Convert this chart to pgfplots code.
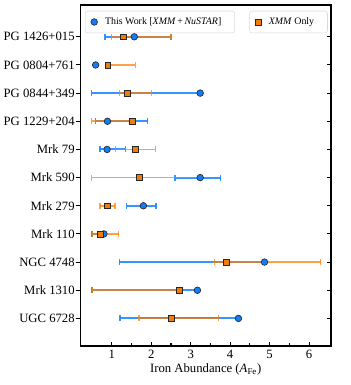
\documentclass[border=0pt]{standalone}
\usepackage{pgfplots}
\pgfplotsset{compat=1.18}
\usepackage{pgfplotstable}
\usepackage{fontspec}
\setmainfont{Liberation Serif}
\definecolor{cblue}{RGB}{20,125,245}
\definecolor{eblue}{RGB}{20,130,255}
\definecolor{corange}{RGB}{240,125,10}
\definecolor{eorange}{RGB}{255,125,0}
\pgfplotstableread{
y x ep em
10 1.57 0.93 0.74
9 0.59 0 0
8 3.24 0 2.75
7 0.89 1.02 0.30
6 0.88 0.46 0.18
5 3.24 0.52 0.64
4 1.80 0.32 0.42
3 0.80 0 0.30
2 4.87 0 3.68
1 3.17 0 2.67
0 4.21 0 3.00
}\bluedata
\pgfplotstableread{
y x ep em
10 1.29 1.21 0.29
9 0.90 0.69 0
8 1.40 0.60 0.21
7 1.51 0 1.02
6 1.60 0.50 0.50
5 1.70 1.54 1.21
4 0.89 0.19 0.19
3 0.70 0.48 0.20
2 3.90 2.40 0.30
1 2.71 0 2.21
0 2.50 1.20 0.81
}\orangedata
\begin{document}
\begin{tikzpicture}
\pgfplotsset{
  common/.style={
    scale only axis, width=196.9pt, height=268.3pt,
    xmin=0.21, xmax=6.55, ymin=-0.97, ymax=11.13,
    axis line style={line width=1.2pt},
    every tick/.style={black, line width=0.8pt},
    /pgf/number format/assume math mode=true,
    tick label style={font=\fontsize{10}{12}\selectfont},
    legend style={font=\fontsize{7.8}{9}\selectfont, draw=black!15, rounded corners=2pt, inner xsep=4.5pt, inner ysep=3.2pt, row sep=0pt,
      nodes={inner xsep=6pt}},
    legend cell align=left,
  }
}
\begin{axis}[common, name=ax,
  tick align=inside,
  xtick={1,2,3,4,5,6}, minor x tick num=1, xtick pos=bottom,
  major tick length=2.6pt, minor tick length=2.4pt,
  ytick={0,...,10}, yticklabels={}, ytick pos=right,
  xlabel={Iron Abundance (\textit{A}\textsubscript{Fe})},
  xlabel style={font=\fontsize{10}{12}\selectfont, yshift=3pt},
  legend style={at={(0.017,0.983)}, anchor=north west},
]
\addplot[only marks, mark=*, mark size=2.6pt, mark options={fill=cblue, draw=black!85, line width=0.5pt},
  error bars/.cd, x dir=both, x explicit, error mark=|,
  error bar style={eblue, line width=1.5pt, opacity=0.85},
  error mark options={eblue, line width=1pt, mark size=2.4pt, opacity=0.85}]
  table[x=x, y=y, x error plus=ep, x error minus=em] {\bluedata};
\addlegendentry{This Work [\textit{XMM}\,+\,\textit{NuSTAR}]}
\addplot[forget plot, only marks, mark=square*, mark size=2.3pt, mark options={fill=corange, draw=black!85, line width=0.5pt},
  error bars/.cd, x dir=both, x explicit, error mark=|,
  error bar style={eorange, line width=1.3pt, opacity=0.72},
  error mark options={eorange, line width=0.9pt, mark size=2.4pt, opacity=0.72}]
  table[x=x, y=y, x error plus=ep, x error minus=em] {\orangedata};
\end{axis}
\begin{axis}[common,
  tick align=outside, major tick length=4pt,
  xtick=\empty,
  ytick={0,...,10}, ytick pos=left,
  yticklabel style={inner xsep=0.5pt},
  yticklabels={UGC 6728, Mrk 1310, NGC 4748, Mrk 110, Mrk 279, Mrk 590, Mrk 79, PG 1229+204, PG 0844+349, PG 0804+761, PG 1426+015},
  legend style={at={(0.988,0.983)}, anchor=north east},
]
\addlegendimage{only marks, mark=square*, mark size=2.3pt, mark options={fill=corange, draw=black!85, line width=0.5pt}}
\addlegendentry{\textit{XMM} Only}
\end{axis}
\path ([shift={(-63.5pt,-30.9pt)}]ax.south west) rectangle ([shift={(15.2pt,3.9pt)}]ax.north east);
\end{tikzpicture}
\end{document}
